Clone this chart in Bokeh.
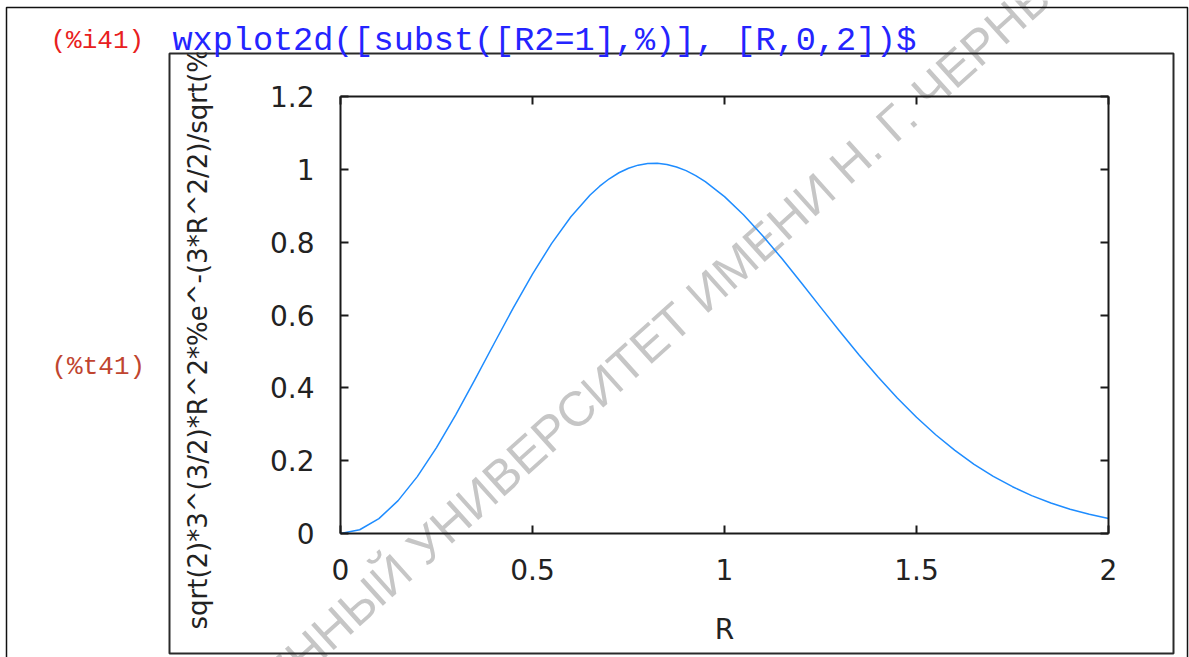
import math
from bokeh.plotting import figure
from bokeh.models import (Range1d, LinearAxis, Label, BoxAnnotation,
                          ColumnDataSource, FixedTicker)
from bokeh.embed import file_html
from bokeh.resources import INLINE

r_values = [0.00, 0.05, 0.10, 0.15, 0.20, 0.25, 0.30, 0.35, 0.40, 0.45,
            0.50, 0.55, 0.60, 0.65, 0.675, 0.70, 0.725, 0.75, 0.775, 0.80,
            0.825, 0.85, 0.875, 0.90, 0.925, 0.95, 1.00, 1.05, 1.10, 1.15,
            1.20, 1.25, 1.30, 1.35, 1.40, 1.45, 1.50, 1.55, 1.60, 1.65,
            1.70, 1.75, 1.80, 1.85, 1.90, 1.95, 2.00]
w_values = [0.0000, 0.0103, 0.0408, 0.0902, 0.1562, 0.2359, 0.3260, 0.4226,
            0.5218, 0.6196, 0.7124, 0.7967, 0.8698, 0.9294, 0.9537, 0.9741,
            0.9906, 1.0030, 1.0115, 1.0160, 1.0166, 1.0134, 1.0065, 0.9964,
            0.9828, 0.9664, 0.9251, 0.8744, 0.8169, 0.7543, 0.6885, 0.6217,
            0.5553, 0.4909, 0.4296, 0.3722, 0.3192, 0.2711, 0.2281, 0.1901,
            0.1570, 0.1285, 0.1041, 0.0836, 0.0666, 0.0526, 0.0411]

x_ticks = [0, 0.5, 1, 1.5, 2]
y_ticks = [0, 0.2, 0.4, 0.6, 0.8, 1, 1.2]

x_label = "R"
y_label = "sqrt(2)*3^(3/2)*R^2*%e^-(3*R^2/2)/sqrt(%pi)"
input_tag = "(%i41)"
input_code = "wxplot2d([subst([R2=1],%)], [R,0,2])$"
output_tag = "(%t41)"
stamp_head = "САРАТОВСКИЙ ГОСУДАРСТВЕННЫЙ"
stamp_tail = "УНИВЕРСИТЕТ ИМЕНИ Н. Г. ЧЕРНЫШЕВСКОГО"

W, H = 1189, 657
# page pixels of the plot box: R 0..2 -> x 340..1108, value 0..1.2 -> y 533..96
BL, BR, BT, BB = 340, 1108, 96, 533
XMIN, XMAX = 0.0, 2.0
YMIN, YMAX = 0.0, 1.2
kx = (BR - BL) / (XMAX - XMIN)
ky = (BB - BT) / (YMAX - YMIN)

# the frame fills the whole page; the plot box is drawn with fixed axes
p = figure(width=W, height=H, output_backend="svg", toolbar_location=None,
           x_range=Range1d(XMIN - BL / kx, XMIN + (W - BL) / kx),
           y_range=Range1d(YMIN - (H - BB) / ky, YMIN + BB / ky),
           min_border=0, x_axis_location=None, y_axis_location=None)

# page-pixel coordinates (origin top-left) for the surrounding worksheet
p.extra_x_ranges = {"px": Range1d(0, W)}
p.extra_y_ranges = {"py": Range1d(H, 0)}
PX = dict(x_range_name="px", y_range_name="py")

p.background_fill_color = "white"
p.border_fill_color = "white"
p.outline_line_color = None
p.xgrid.visible = False
p.ygrid.visible = False

TICK_FONT = "DejaVu Sans"


def make_axis(ticks, where, bounds, show_labels, **kw):
    ax = LinearAxis(ticker=FixedTicker(ticks=ticks), fixed_location=where,
                    bounds=bounds, **kw)
    ax.axis_line_color = "#1a1a1a"
    ax.axis_line_width = 2
    ax.major_tick_in = 8
    ax.major_tick_out = 0
    ax.major_tick_line_color = "#1a1a1a"
    ax.major_tick_line_width = 2
    ax.minor_tick_line_color = None
    ax.major_label_text_font = TICK_FONT
    ax.major_label_text_font_size = "28px" if show_labels else "0px"
    ax.major_label_text_color = "#222222" if show_labels else None
    return ax


xb = make_axis(x_ticks, YMIN, (XMIN, XMAX), True,
               major_label_overrides={0: "0", 1: "1", 2: "2"})
xb.major_label_standoff = 25
xb.axis_label = x_label
xb.axis_label_text_font = TICK_FONT
xb.axis_label_text_font_size = "28px"
xb.axis_label_text_font_style = "normal"
xb.axis_label_text_color = "#222222"
xb.axis_label_standoff = 30
p.add_layout(xb, "below")

yl = make_axis(y_ticks, XMIN, (YMIN, YMAX), True,
               major_label_overrides={0: "0", 1: "1"})
yl.major_label_standoff = 26
p.add_layout(yl, "left")

p.add_layout(make_axis(x_ticks, YMAX, (XMIN, XMAX), False), "above")
p.add_layout(make_axis(y_ticks, XMAX, (YMIN, YMAX), False), "right")

# watermark stamp, drawn beneath the curve
ang = math.radians(42)
sx, sy = 414, 554
gap = 14
for txt, align, x0, y0 in [
        (stamp_tail, "left", sx, sy),
        (stamp_head, "right", sx - gap * math.cos(ang), sy + gap * math.sin(ang))]:
    p.add_layout(Label(x=x0, y=y0, text=txt, angle=ang,
                       text_font="Liberation Sans", text_font_size="49px",
                       text_color="#c6c6c6", text_align=align,
                       text_baseline="alphabetic", level="underlay", **PX))

# the curve
src = ColumnDataSource(dict(r=r_values, w=w_values))
p.line("r", "w", source=src, line_color="#1e8cff", line_width=1.5,
       line_join="round")

# vertical axis title (long expression, cut off at the image frame)
p.add_layout(Label(x=197, y=629, text=y_label, angle=math.pi / 2,
                   text_font=TICK_FONT, text_font_size="26px",
                   text_color="#222222", text_align="left",
                   text_baseline="middle", **PX))
p.add_layout(BoxAnnotation(left=172, right=240, top=-5, bottom=52,
                           fill_color="white", fill_alpha=1,
                           line_color=None, **PX))

# image frame and worksheet cell frame
p.add_layout(BoxAnnotation(left=169, right=1173, top=53, bottom=653,
                           fill_alpha=0, line_color="#2a2a2a", line_alpha=1,
                           line_width=2, **PX))
p.add_layout(BoxAnnotation(left=6, right=1187, top=7, bottom=720,
                           fill_alpha=0, line_color="#111111", line_alpha=1,
                           line_width=1.5, **PX))

# worksheet input / output tags and code
p.add_layout(Label(x=50, y=40, text=input_tag, text_font="Liberation Mono",
                   text_font_size="26px", text_color="#e82020",
                   text_baseline="alphabetic", **PX))
p.add_layout(Label(x=172, y=40, text=input_code, text_font="Liberation Mono",
                   text_font_size="33.5px", text_color="#2424ff",
                   text_baseline="alphabetic", **PX))
p.add_layout(Label(x=51, y=366, text=output_tag, text_font="Liberation Mono",
                   text_font_size="26px", text_color="#c0452f",
                   text_baseline="alphabetic", **PX))

open("out.html", "w").write(file_html(p, INLINE))
